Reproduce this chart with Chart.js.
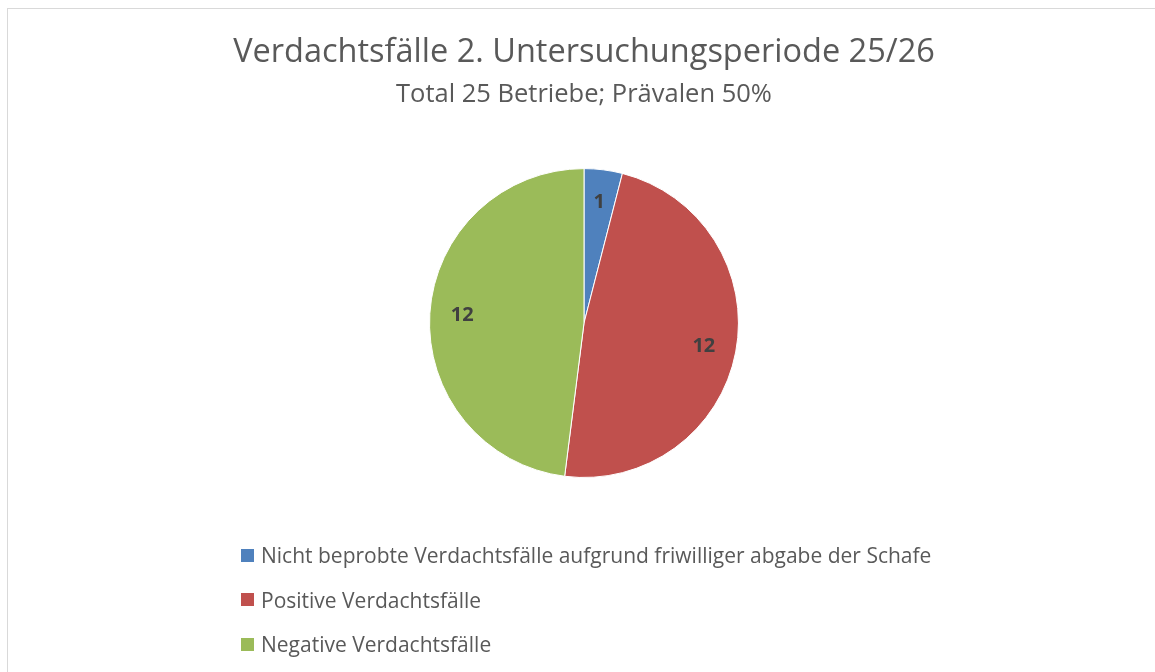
<!DOCTYPE html>
<html>
  <head>
    <title>Verdachtsfälle 2. Untersuchungsperiode 25/26</title>
    <script src="https://cdn.jsdelivr.net/npm/chart.js"></script>
    <style>
      body {
        margin: 0;
        font-family: "Open Sans", sans-serif;
        background: #fff;
      }
      .frame {
        position: absolute;
        left: 7px;
        top: 8px;
        width: 1160px;
        height: 700px;
        border: 1.5px solid #d9d9d9;
      }
      #pieChart {
        position: absolute;
        left: 0;
        top: 0;
      }
      .legend {
        position: absolute;
        left: 241px;
        top: 533px;
      }
      .legend-item {
        display: flex;
        align-items: center;
        height: 44.5px;
        font-size: 21px;
        color: #595959;
      }
      .legend-color {
        width: 13px;
        height: 13px;
        margin-right: 7px;
      }
    </style>
  </head>
  <body>
    <div class="frame"></div>
    <canvas id="pieChart" width="1155" height="672"></canvas>
    <div class="legend" id="pieLegend"></div>

    <script>
      // chart data
      const categories = [
        'Nicht beprobte Verdachtsfälle aufgrund friwilliger abgabe der Schafe',
        'Positive Verdachtsfälle',
        'Negative Verdachtsfälle'
      ];
      const values = [1, 12, 12];
      const colors = ['#4f81bd', '#c0504d', '#9bbb59'];

      // value labels inside the slices
      const sliceLabels = {
        id: 'sliceLabels',
        afterDatasetsDraw(chart) {
          const ctx = chart.ctx;
          const meta = chart.getDatasetMeta(0);
          ctx.save();
          ctx.font = 'bold 20px "Open Sans", sans-serif';
          ctx.fillStyle = '#404040';
          ctx.textAlign = 'center';
          ctx.textBaseline = 'middle';
          meta.data.forEach((arc, i) => {
            const mid = (arc.startAngle + arc.endAngle) / 2;
            const r = arc.outerRadius * 0.79;
            ctx.fillText(String(values[i]), arc.x + Math.cos(mid) * r, arc.y + Math.sin(mid) * r);
          });
          ctx.restore();
        }
      };

      new Chart(document.getElementById('pieChart'), {
        type: 'pie',
        data: {
          labels: categories,
          datasets: [{
            data: values,
            backgroundColor: colors,
            borderColor: '#ffffff',
            borderWidth: 1
          }]
        },
        options: {
          responsive: false,
          animation: false,
          layout: {
            padding: { left: 13, right: 0, top: 0, bottom: 194 }
          },
          plugins: {
            legend: { display: false },
            tooltip: { enabled: false },
            title: {
              display: true,
              text: 'Verdachtsfälle 2. Untersuchungsperiode 25/26',
              color: '#595959',
              font: { family: '"Open Sans", sans-serif', size: 32.5, weight: 'normal', lineHeight: 1.2 },
              padding: { top: 33.5, bottom: 4 }
            },
            subtitle: {
              display: true,
              text: 'Total 25 Betriebe; Prävalen 50%',
              color: '#595959',
              font: { family: '"Open Sans", sans-serif', size: 25.5, weight: 'normal', lineHeight: 1.2 },
              padding: { top: 3, bottom: 58 }
            }
          }
        },
        plugins: [sliceLabels]
      });

      // legend list below the pie
      const legendBox = document.getElementById('pieLegend');
      categories.forEach((name, i) => {
        const item = document.createElement('div');
        item.className = 'legend-item';
        const box = document.createElement('div');
        box.className = 'legend-color';
        box.style.backgroundColor = colors[i];
        const text = document.createElement('span');
        text.textContent = name;
        item.appendChild(box);
        item.appendChild(text);
        legendBox.appendChild(item);
      });
    </script>
  </body>
</html>
